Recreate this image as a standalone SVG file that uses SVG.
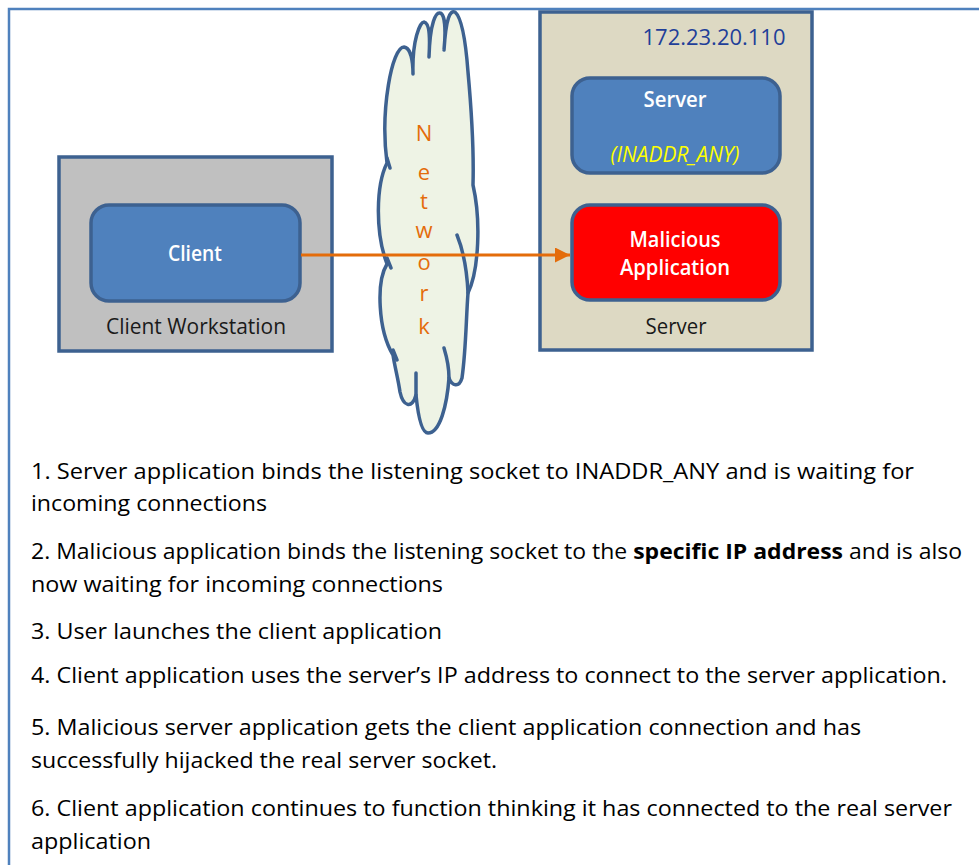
<svg xmlns="http://www.w3.org/2000/svg" width="979" height="865" viewBox="0 0 979 865">
<defs>
<style>
.box{stroke:#3d6190;stroke-width:3.5}
.node{stroke:#3d6190;stroke-width:3.5}
.lbl{font-family:"Open Sans","Noto Sans",sans-serif;font-size:21px;text-anchor:middle}
.w{fill:#ffffff;font-weight:600}
.txt{font-family:"Open Sans","Noto Sans",sans-serif;font-size:21px;fill:#000000}
.net{font-family:"Open Sans","Noto Sans",sans-serif;font-size:22px;fill:#e46c0a;text-anchor:middle}
</style>
<marker id="ah" viewBox="0 0 10 10" refX="10" refY="5" markerWidth="5" markerHeight="5" markerUnits="strokeWidth" orient="auto">
<path d="M0,0 L10,5 L0,10 z" fill="#e46c0a"/>
</marker>
</defs>
<rect x="0" y="0" width="979" height="865" fill="#ffffff"/>
<path d="M9,865 L9,9 L979,9" fill="none" stroke="#4f81bd" stroke-width="2.5"/>

<g id="client-workstation">
<rect class="box" x="59" y="157" width="273" height="194" fill="#c0c0c0"/>
<text class="lbl" x="196" y="334" fill="#1a1a1a" textLength="180" lengthAdjust="spacingAndGlyphs">Client Workstation</text>
</g>
<g id="client">
<rect class="node" x="91" y="205" width="209" height="96" rx="18" fill="#4f81bd"/>
<text class="lbl w" x="195" y="261" textLength="54" lengthAdjust="spacingAndGlyphs">Client</text>
</g>

<g id="network">
<path d="M387,163 C380,110 392,47 404,47 C411,48 413,62 413,74 C412,40 420,22 424,22 C430,23 430,40 429,57 C430,22 436,12 440,13 C445,14 446,30 444,50 C446,18 450,10 455,12 C462,18 466,45 468,72 C471,105 474,150 473,185 C481,220 479,270 468,293 C466,320 466,350 462,378 C459,388 452,386 449,378 C447,405 440,433 428,433 C420,433 417,405 416,395 C412,410 403,406 400,392 C398,378 395,368 393,355 C378,330 376,282 387,264 C375,232 376,185 387,163 Z" fill="#eef3e5" stroke="#3d6190" stroke-width="3.5" stroke-linejoin="round"/>
<path d="M457,235 C463,250 467,270 468,293 M444,348 C447,358 449,368 449,378 M416,373 L416,395 M387,158 L390,168 M387,258 L391,268 M393,350 L397,360" fill="none" stroke="#3d6190" stroke-width="3.5" stroke-linecap="round"/>
<text class="net" x="424" y="141">N</text>
<text class="net" x="424" y="180">e</text>
<text class="net" x="424" y="209">t</text>
<text class="net" x="424" y="238">w</text>
<text class="net" x="424" y="270">o</text>
<text class="net" x="424" y="301">r</text>
<text class="net" x="424" y="334">k</text>
</g>

<g id="server-host">
<rect class="box" x="540" y="12" width="272" height="338" fill="#ddd9c3"/>
<text class="lbl" x="714" y="45" fill="#1f3f99" textLength="143" lengthAdjust="spacingAndGlyphs">172.23.20.110</text>
<text class="lbl" x="676" y="334" fill="#1a1a1a" textLength="61" lengthAdjust="spacingAndGlyphs">Server</text>
</g>
<g id="server">
<rect class="node" x="572" y="78" width="208" height="95" rx="18" fill="#4f81bd"/>
<text class="lbl w" x="675" y="107" textLength="63" lengthAdjust="spacingAndGlyphs">Server</text>
<text class="lbl" x="675" y="162" fill="#ffff00" font-style="italic" textLength="129" lengthAdjust="spacingAndGlyphs">(INADDR_ANY)</text>
</g>
<g id="malicious">
<rect class="node" x="572" y="205" width="208" height="95" rx="18" fill="#ff0000"/>
<text class="lbl w" x="675" y="247" textLength="91" lengthAdjust="spacingAndGlyphs">Malicious</text>
<text class="lbl w" x="675" y="275" textLength="110" lengthAdjust="spacingAndGlyphs">Application</text>
</g>

<g id="connectors">
<line x1="301" y1="255" x2="570" y2="255" stroke="#e46c0a" stroke-width="3" marker-end="url(#ah)"/>
</g>

<g id="notes">
<text class="txt" x="31" y="479" textLength="883" lengthAdjust="spacingAndGlyphs">1. Server application binds  the listening socket to INADDR_ANY and  is waiting for</text>
<text class="txt" x="31" y="511" textLength="236" lengthAdjust="spacingAndGlyphs">incoming connections</text>
<text class="txt" x="31" y="559" textLength="931" lengthAdjust="spacingAndGlyphs">2. Malicious application binds the listening socket to the <tspan font-weight="bold">specific IP address</tspan> and is also</text>
<text class="txt" x="31" y="592" textLength="412" lengthAdjust="spacingAndGlyphs">now waiting for incoming connections</text>
<text class="txt" x="31" y="639" textLength="411" lengthAdjust="spacingAndGlyphs">3. User launches the client application</text>
<text class="txt" x="31" y="683" textLength="916" lengthAdjust="spacingAndGlyphs">4. Client application uses the server’s IP address to connect to the server application.</text>
<text class="txt" x="31" y="735" textLength="830" lengthAdjust="spacingAndGlyphs">5. Malicious server application gets the client application connection and has</text>
<text class="txt" x="31" y="768" textLength="466" lengthAdjust="spacingAndGlyphs">successfully hijacked the real server socket.</text>
<text class="txt" x="31" y="816" textLength="921" lengthAdjust="spacingAndGlyphs">6. Client application continues to function thinking it has connected to the real server</text>
<text class="txt" x="31" y="849" textLength="120" lengthAdjust="spacingAndGlyphs">application</text>
</g>
</svg>
